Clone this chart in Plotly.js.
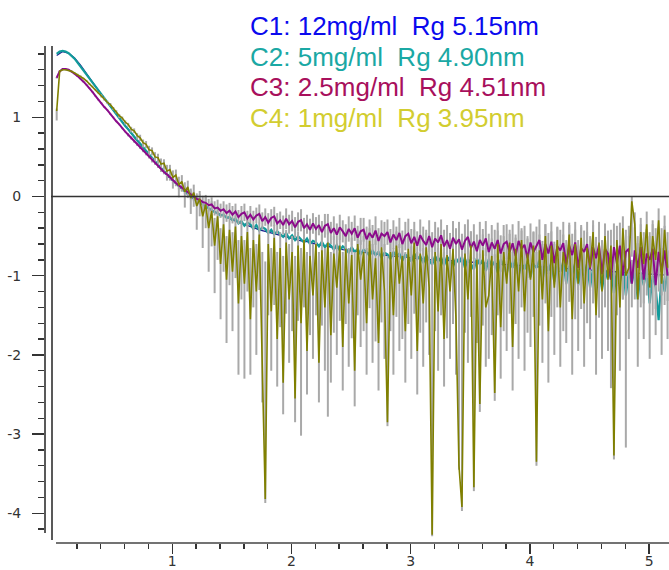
<!DOCTYPE html>
<html><head><meta charset="utf-8">
<script src="https://cdn.plot.ly/plotly-3.0.1.min.js"></script>
<style>html,body{margin:0;padding:0;background:#fff}#chart{width:669px;height:570px}</style>
</head><body><div id="chart"></div>
<script>
// q sampling grids (start, step)
const gridA = {start: 0.03, step: 0.05};   // C1
const gridB = {start: 0.03, step: 0.025};  // C2, C3, C4

const legendLabels = [
  "C1: 12mg/ml\u00a0 Rg 5.15nm",
  "C2: 5mg/ml\u00a0 Rg 4.90nm",
  "C3: 2.5mg/ml\u00a0 Rg 4.51nm",
  "C4: 1mg/ml\u00a0 Rg 3.95nm"
];

const xTickVals = [1, 2, 3, 4, 5];
const xTickText = ["1", "2", "3", "4", "5"];
const yTickVals = [-4, -3, -2, -1, 0, 1];
const yTickText = ["-4", "-3", "-2", "-1", "0", "1"];

// log intensity, C1 12 mg/ml
const c1 = [
 1.78,1.83,1.81,1.75,1.66,1.55,1.45,1.34,1.24,1.14,
 1.04,0.94,0.85,0.75,0.66,0.57,0.48,0.39,0.31,0.23,
 0.16,0.09,0.03,-0.03,-0.08,-0.13,-0.17,-0.21,-0.25,-0.28,
 -0.31,-0.34,-0.37,-0.39,-0.42,-0.44,-0.46,-0.48,-0.50,-0.52,
 -0.54,-0.56,-0.57,-0.59,-0.61,-0.62,-0.64,-0.65,-0.67,-0.68,
 -0.69,-0.70,-0.71,-0.72,-0.73,-0.74,-0.75,-0.76,-0.76,-0.77,
 -0.78,-0.78,-0.79,-0.80,-0.80,-0.81,-0.81,-0.82,-0.82,-0.83,
 -0.83,-0.84,-0.84,-0.85,-0.85,-0.86,-0.86,-0.87,-0.87,-0.88,
 -0.88,-0.89,-0.89,-0.90,-0.90,-0.91,-0.91,-0.92,-0.92,-0.93,
 -0.93,-0.94,-0.94,-0.95,-0.95,-0.96,-0.96,-0.97,-0.97,-0.98,
 -0.98,-0.99,-0.99
];

// C2 5 mg/ml
const c2 = [
 1.80,1.83,1.84,1.83,1.81,1.78,1.74,1.69,1.64,1.58,
 1.53,1.48,1.43,1.38,1.33,1.28,1.23,1.18,1.13,1.08,
 1.03,0.98,0.94,0.89,0.85,0.80,0.76,0.71,0.67,0.62,
 0.58,0.53,0.49,0.44,0.40,0.36,0.32,0.28,0.24,0.20,
 0.17,0.13,0.10,0.06,0.03,0.00,-0.03,-0.05,-0.08,-0.10,
 -0.13,-0.15,-0.17,-0.20,-0.21,-0.24,-0.23,-0.27,-0.26,-0.30,
 -0.28,-0.34,-0.31,-0.37,-0.33,-0.35,-0.41,-0.36,-0.43,-0.39,
 -0.41,-0.46,-0.42,-0.48,-0.44,-0.47,-0.51,-0.46,-0.53,-0.49,
 -0.55,-0.50,-0.54,-0.58,-0.53,-0.60,-0.56,-0.58,-0.63,-0.57,
 -0.64,-0.59,-0.62,-0.67,-0.61,-0.68,-0.63,-0.66,-0.71,-0.64,
 -0.70,-0.66,-0.73,-0.67,-0.70,-0.75,-0.68,-0.74,-0.70,-0.77,
 -0.71,-0.73,-0.79,-0.70,-0.76,-0.72,-0.81,-0.73,-0.77,-0.82,
 -0.72,-0.79,-0.75,-0.84,-0.74,-0.80,-0.86,-0.75,-0.82,-0.77,
 -0.87,-0.76,-0.81,-0.89,-0.78,-0.84,-0.76,-0.90,-0.79,-0.85,
 -0.92,-0.78,-0.86,-0.80,-0.94,-0.79,-0.88,-0.82,-0.96,-0.80,
 -0.87,-0.98,-0.81,-0.90,-0.79,-1.00,-0.84,-0.92,-0.82,-1.02,
 -0.85,-0.90,-0.80,-1.05,-0.86,-0.94,-0.83,-1.08,-0.88,-0.95,
 -0.82,-1.10,-0.87,-0.98,-0.84,-1.12,-0.89,-1.00,-0.85,-1.15,
 -0.90,-1.02,-0.86,-1.18,-0.92,-1.05,-0.88,-1.22,-0.94,-1.08,
 -0.86,-1.25,-0.95,-1.10,-0.90,-1.30,-0.96,-1.12,-0.92,-1.35,
 -1.00,-1.15,-1.56,-0.98,-1.20,-0.95
];

// C3 2.5 mg/ml
const c3 = [
 1.50,1.58,1.61,1.61,1.60,1.58,1.55,1.52,1.49,1.45,
 1.41,1.37,1.32,1.27,1.22,1.18,1.13,1.09,1.04,1.00,
 0.95,0.91,0.86,0.82,0.78,0.74,0.70,0.66,0.62,0.58,
 0.54,0.50,0.46,0.43,0.39,0.35,0.31,0.28,0.24,0.21,
 0.17,0.14,0.11,0.08,0.05,0.02,0.00,-0.03,-0.04,-0.07,
 -0.08,-0.11,-0.10,-0.15,-0.14,-0.18,-0.16,-0.21,-0.18,-0.23,
 -0.19,-0.26,-0.22,-0.20,-0.28,-0.23,-0.29,-0.24,-0.22,-0.31,
 -0.26,-0.33,-0.27,-0.25,-0.34,-0.30,-0.36,-0.28,-0.35,-0.31,
 -0.39,-0.32,-0.30,-0.40,-0.35,-0.42,-0.34,-0.41,-0.36,-0.45,
 -0.37,-0.35,-0.46,-0.40,-0.48,-0.39,-0.44,-0.50,-0.41,-0.47,
 -0.40,-0.52,-0.44,-0.42,-0.54,-0.46,-0.52,-0.43,-0.56,-0.47,
 -0.50,-0.45,-0.58,-0.48,-0.55,-0.46,-0.60,-0.50,-0.47,-0.59,
 -0.51,-0.62,-0.49,-0.56,-0.61,-0.50,-0.64,-0.53,-0.58,-0.49,
 -0.63,-0.55,-0.66,-0.52,-0.60,-0.54,-0.67,-0.56,-0.51,-0.65,
 -0.57,-0.69,-0.55,-0.62,-0.53,-0.70,-0.58,-0.66,-0.55,-0.72,
 -0.60,-0.57,-0.70,-0.59,-0.75,-0.56,-0.66,-0.61,-0.78,-0.58,
 -0.70,-0.62,-0.55,-0.80,-0.60,-0.72,-0.57,-0.84,-0.63,-0.68,
 -0.59,-0.86,-0.62,-0.74,-0.58,-0.90,-0.65,-0.70,-0.60,-0.92,
 -0.64,-0.78,-0.61,-0.98,-0.66,-0.72,-1.05,-0.64,-0.85,-0.62,
 -1.00,-0.70,-0.66,-1.10,-0.68,-0.90,-0.64,-1.05,-0.72,-0.80,
 -0.66,-1.12,-0.70,-0.95,-0.68,-1.00
];
const c3Err = [
 0.01,0.01,0.01,0.01,0.01,0.01,0.01,0.01,0.01,0.01,
 0.01,0.01,0.01,0.01,0.01,0.01,0.01,0.01,0.01,0.01,
 0.01,0.01,0.01,0.01,0.02,0.02,0.02,0.02,0.02,0.02,
 0.02,0.02,0.03,0.03,0.03,0.03,0.03,0.04,0.04,0.04,
 0.04,0.05,0.05,0.05,0.06,0.06,0.06,0.07,0.07,0.08,
 0.08,0.08,0.09,0.09,0.10,0.09,0.10,0.11,0.10,0.11,
 0.10,0.09,0.10,0.11,0.10,0.11,0.11,0.10,0.12,0.11,
 0.11,0.12,0.11,0.12,0.13,0.11,0.12,0.13,0.12,0.13,
 0.13,0.12,0.14,0.13,0.12,0.14,0.13,0.15,0.13,0.14,
 0.15,0.13,0.14,0.15,0.14,0.16,0.14,0.15,0.16,0.15,
 0.16,0.15,0.17,0.15,0.16,0.17,0.16,0.18,0.16,0.17,
 0.18,0.16,0.17,0.18,0.17,0.19,0.17,0.18,0.19,0.18,
 0.19,0.18,0.20,0.18,0.19,0.20,0.19,0.21,0.19,0.20,
 0.21,0.19,0.20,0.21,0.20,0.22,0.20,0.21,0.22,0.21,
 0.22,0.21,0.23,0.21,0.22,0.23,0.22,0.24,0.22,0.23,
 0.24,0.22,0.23,0.24,0.23,0.25,0.23,0.24,0.25,0.24,
 0.25,0.24,0.26,0.24,0.25,0.26,0.25,0.27,0.25,0.26,
 0.27,0.25,0.26,0.27,0.26,0.28,0.26,0.27,0.28,0.27,
 0.28,0.27,0.29,0.27,0.28,0.29,0.28,0.30,0.28,0.29,
 0.30,0.28,0.29,0.30,0.29,0.31,0.29,0.30,0.31,0.30,
 0.31,0.30,0.32,0.30,0.31,0.32
];

// C4 1 mg/ml
const c4 = [
 1.08,1.58,1.60,1.60,1.59,1.58,1.56,1.54,1.52,1.49,
 1.46,1.42,1.39,1.35,1.31,1.27,1.23,1.19,1.16,1.11,
 1.07,1.02,0.99,0.94,0.91,0.85,0.83,0.77,0.74,0.68,
 0.66,0.59,0.58,0.50,0.49,0.41,0.42,0.32,0.34,0.24,
 0.27,0.15,0.19,0.06,0.12,-0.02,0.05,-0.12,-0.03,-0.25,
 -0.10,-0.40,-0.18,-0.62,-0.25,-0.85,-0.35,-1.05,-0.42,-0.95,
 -0.38,-1.35,-0.50,-1.10,-0.45,-1.55,-0.55,-1.20,-0.48,-2.00,
 -3.82,-0.60,-1.45,-0.52,-1.80,-0.65,-2.35,-0.58,-1.30,-0.70,
 -2.55,-0.62,-1.60,-0.55,-1.95,-0.75,-1.25,-0.60,-2.10,-0.68,
 -1.40,-0.58,-1.75,-0.72,-1.15,-0.62,-1.90,-0.66,-1.35,-0.74,
 -2.20,-0.60,-1.05,-0.70,-1.60,-0.56,-1.30,-0.78,-1.85,-0.64,
 -1.20,-2.85,-0.70,-1.50,-0.62,-1.10,-0.75,-1.70,-0.66,-1.25,
 -0.58,-1.95,-0.72,-1.35,-0.64,-1.15,-4.27,-0.70,-1.45,-0.60,
 -1.80,-0.74,-1.20,-0.66,-1.55,-3.40,-3.92,-0.72,-1.30,-0.62,
 -3.67,-0.80,-2.62,-0.68,-1.40,-1.25,-0.75,-2.48,-0.60,-1.65,
 -0.70,-1.10,-0.58,-1.90,-0.66,-1.20,-0.55,-1.45,-0.72,-1.05,
 -0.62,-3.35,-0.68,-1.30,-0.50,-1.70,-0.62,-1.15,-0.55,-1.40,
 -0.70,-0.95,-0.48,-1.55,-0.60,-1.10,-0.52,-1.35,-0.65,-0.90,
 -0.45,-1.50,-0.58,-1.20,-0.50,-1.05,-0.62,-3.27,-0.55,-1.40,
 -0.40,-1.00,-0.90,-0.06,-0.35,-1.30,-0.45,-0.85,-0.35,-1.15,
 -0.50,-0.80,-0.30,-1.10,-0.42,-0.90
];
const c4ErrPlus = [
 0.03,0.01,0.01,0.01,0.01,0.01,0.01,0.01,0.01,0.01,
 0.01,0.01,0.01,0.01,0.01,0.02,0.02,0.02,0.02,0.02,
 0.02,0.02,0.02,0.02,0.02,0.03,0.03,0.03,0.04,0.04,
 0.04,0.05,0.04,0.06,0.05,0.07,0.05,0.08,0.06,0.09,
 0.07,0.10,0.08,0.12,0.08,0.12,0.10,0.14,0.10,0.18,
 0.12,0.25,0.12,0.35,0.12,0.45,0.14,0.55,0.15,0.50,
 0.14,0.80,0.18,0.55,0.16,0.90,0.18,0.60,0.15,1.30,
 3.00,0.18,0.80,0.16,1.10,0.20,1.60,0.16,0.70,0.20,
 1.80,0.18,0.95,0.15,1.25,0.22,0.65,0.17,1.40,0.20,
 0.75,0.16,1.05,0.22,0.55,0.18,1.20,0.20,0.70,0.22,
 1.50,0.17,0.50,0.20,0.95,0.16,0.70,0.24,1.15,0.18,
 0.60,2.10,0.20,0.85,0.18,0.50,0.22,1.00,0.18,0.62,
 0.16,1.25,0.22,0.70,0.18,0.55,3.50,0.20,0.80,0.17,
 1.10,0.22,0.60,0.18,0.85,2.70,3.20,0.22,0.65,0.18,
 2.90,0.25,1.90,0.20,0.75,0.65,0.22,1.75,0.17,0.95,
 0.20,0.50,0.16,1.20,0.18,0.60,0.15,0.80,0.22,0.45,
 0.18,2.65,0.20,0.70,0.15,1.05,0.18,0.55,0.16,0.80,
 0.22,0.40,0.15,0.95,0.18,0.55,0.16,0.75,0.20,0.40,
 0.15,0.90,0.18,0.65,0.16,0.50,0.20,2.60,0.18,0.80,
 0.15,0.45,0.40,0.06,0.15,0.80,0.18,0.40,0.16,0.70,
 0.20,0.40,0.15,0.70,0.18,0.45
];
const c4ErrMinus = [
 0.12,0.01,0.01,0.01,0.01,0.01,0.01,0.01,0.01,0.01,
 0.01,0.01,0.01,0.01,0.01,0.02,0.02,0.02,0.02,0.02,
 0.02,0.03,0.02,0.03,0.03,0.04,0.03,0.05,0.04,0.06,
 0.05,0.07,0.06,0.09,0.07,0.10,0.08,0.12,0.09,0.14,
 0.10,0.16,0.12,0.20,0.14,0.20,0.18,0.30,0.22,0.40,
 0.30,0.55,0.45,0.60,0.55,0.70,0.60,0.80,0.70,0.75,
 0.65,0.90,0.80,1.20,0.75,0.70,0.85,0.80,0.70,0.60,
 0.05,0.90,0.75,0.85,0.60,1.00,0.40,0.90,0.80,1.00,
 0.30,0.95,1.42,0.85,0.55,1.00,0.80,0.90,0.50,0.95,
 0.80,2.20,0.60,1.00,0.85,0.95,0.55,0.95,0.80,1.05,
 0.45,0.90,0.85,1.00,0.65,0.85,0.80,1.05,0.60,0.95,
 0.85,0.05,1.00,0.75,0.90,0.85,1.05,0.65,0.95,0.80,
 0.90,0.55,1.00,0.80,0.95,0.85,0.02,1.00,0.75,0.90,
 0.60,1.05,0.85,0.95,0.70,0.05,0.05,1.00,0.80,0.90,
 0.05,1.05,0.10,0.95,0.75,0.80,1.00,0.10,0.90,0.65,
 1.00,0.85,0.90,0.55,0.95,0.85,0.85,0.75,1.00,0.85,
 0.90,0.05,0.95,0.80,0.85,0.65,0.90,0.85,0.85,0.75,
 1.00,0.90,0.85,0.70,0.95,0.85,0.90,0.80,0.95,0.90,
 0.90,0.75,0.95,0.85,0.90,0.90,1.80,0.05,0.95,0.80,
 0.90,2.17,0.90,0.70,0.95,0.85,0.95,0.95,0.90,0.90,
 1.00,0.95,0.90,0.90,0.95,0.90
];

const lineColors = ["#1c1c8c", "#129b9b", "#8b0a8b", "#808000"];
const textColors = ["#0a0aee", "#1aa8a4", "#a8105c", "#d2cd30"];
const errColor = "#a9a9a9";

const qOf = (g, n) => Array.from({length: n}, (_, i) => +(g.start + i * g.step).toFixed(4));
const qA = qOf(gridA, c1.length);
const qB = qOf(gridB, c4.length);

function errTrace(x, y, plus, minus, thick) {
  return {
    x: x, y: y, type: 'scatter', mode: 'markers',
    marker: {size: 2, opacity: 0},
    error_y: {type: 'data', symmetric: minus ? false : true, array: plus,
              arrayminus: minus || plus, color: errColor, thickness: thick, width: 0, visible: true},
    hoverinfo: 'skip', showlegend: false
  };
}
function lineTrace(x, y, color, w) {
  return {x: x, y: y, type: 'scatter', mode: 'lines',
          line: {color: color, width: w}, hoverinfo: 'skip', showlegend: false};
}

const data = [
  lineTrace(qA, c1, lineColors[0], 1.3),
  lineTrace(qB, c2, lineColors[1], 2.2),
  errTrace(qB, c3, c3Err, null, 2.0),
  errTrace(qB, c4, c4ErrPlus, c4ErrMinus, 2.0),
  lineTrace(qB, c3, lineColors[2], 2.0),
  lineTrace(qB, c4, lineColors[3], 1.6)
];

// geometry in pixels
const W = 669, H = 570, L = 45, R = 0, T = 45, B = 27;
const pw = W - L - R, ph = H - T - B;
const px2paperX = p => (p - L) / pw;
const px2paperY = p => (H - B - p) / ph;

const legendY = [26.5, 57, 87.5, 118];
const annotations = legendLabels.map((t, k) => ({
  text: t, xref: 'paper', yref: 'paper', x: px2paperX(248), y: px2paperY(legendY[k]),
  xanchor: 'left', yanchor: 'middle', showarrow: false,
  font: {family: 'Liberation Sans, Arial, sans-serif', size: 26, color: textColors[k]}
}));

const axisCol = '#333';
const shapes = [
  {type: 'line', xref: 'paper', yref: 'paper', x0: px2paperX(56), x1: 1, y0: 0, y1: 0,
   line: {color: '#444', width: 1.6}},
  {type: 'line', xref: 'paper', yref: 'paper', x0: 0, x1: 0, y0: px2paperY(533), y1: px2paperY(46),
   line: {color: '#222', width: 1.5}},
  {type: 'line', xref: 'paper', yref: 'paper', x0: px2paperX(52), x1: px2paperX(52), y0: px2paperY(540), y1: px2paperY(46),
   line: {color: '#222', width: 1.5}},
  {type: 'line', xref: 'paper', yref: 'y', x0: px2paperX(51), x1: 1, y0: 0, y1: 0,
   line: {color: '#333', width: 1.3}}
];

const xMinor = [0.2,0.4,0.6,0.8,1.2,1.4,1.6,1.8,2.2,2.4,2.6,2.8,3.2,3.4,3.6,3.8,4.2,4.4,4.6,4.8];
const yMinor = [-4.2,-3.8,-3.6,-3.4,-3.2,-2.8,-2.6,-2.4,-2.2,-1.8,-1.6,-1.4,-1.2,-0.8,-0.6,-0.4,-0.2,0.2,0.4,0.6,0.8,1.2,1.4,1.6,1.8];

const layout = {
  width: W, height: H,
  margin: {l: L, r: R, t: T, b: B, pad: 0},
  paper_bgcolor: '#fff', plot_bgcolor: '#fff',
  showlegend: false, hovermode: false,
  xaxis: {
    range: [-0.068, 5.167], showgrid: false, zeroline: false, showline: false,
    tickmode: 'array', tickvals: xTickVals, ticktext: xTickText,
    ticks: 'outside', ticklen: 10, tickwidth: 1.4, tickcolor: axisCol,
    ticklabelstandoff: -5,
    tickfont: {family: 'DejaVu Sans, sans-serif', size: 14, color: '#333'},
    minor: {tickmode: 'array', tickvals: xMinor, ticks: 'outside', ticklen: 5, tickwidth: 1.4, tickcolor: axisCol, showgrid: false}
  },
  yaxis: {
    range: [-4.375, 1.913], showgrid: false, zeroline: false, showline: false,
    tickmode: 'array', tickvals: yTickVals, ticktext: yTickText,
    ticks: 'outside', ticklen: 12, tickwidth: 1.4, tickcolor: axisCol,
    ticklabelstandoff: 8,
    tickfont: {family: 'DejaVu Sans, sans-serif', size: 14, color: '#333'},
    minor: {tickmode: 'array', tickvals: yMinor, ticks: 'outside', ticklen: 6, tickwidth: 1.4, tickcolor: axisCol, showgrid: false}
  },
  annotations: annotations,
  shapes: shapes
};

Plotly.newPlot('chart', data, layout, {staticPlot: true, displayModeBar: false});
</script>
</body></html>
